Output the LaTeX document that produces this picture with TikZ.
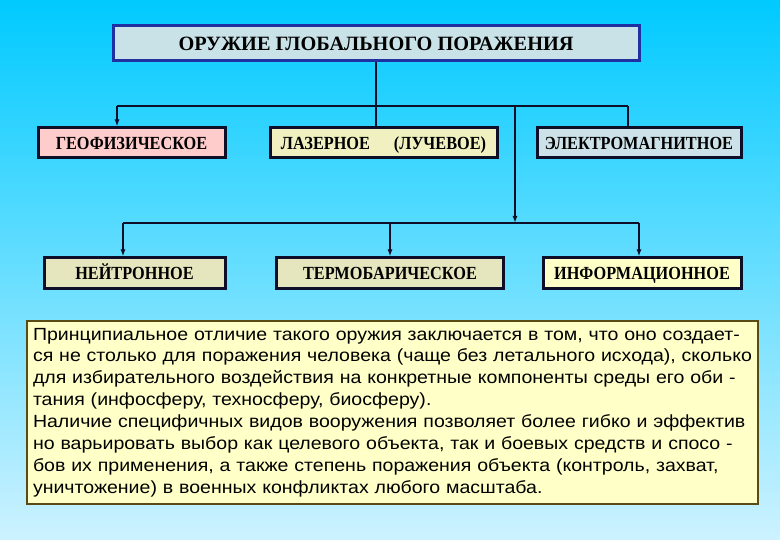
\documentclass[tikz,border=0pt]{standalone}
\usepackage{fontspec}
\setmainfont{Liberation Serif}
\newfontfamily\boxfont{Liberation Serif}[FakeStretch=0.88]
\newfontfamily\bodyfont{Liberation Sans}[FakeStretch=1.11]
\usetikzlibrary{positioning, arrows.meta}
\usepackage{xcolor}
\definecolor{skytop}{RGB}{0,202,255}
\definecolor{skybottom}{RGB}{205,242,255}
\definecolor{linecol}{RGB}{14,14,40}
\definecolor{titleline}{RGB}{32,48,160}
\definecolor{titlefill}{RGB}{200,226,232}
\definecolor{pinkfill}{RGB}{255,204,204}
\definecolor{lemonfill}{RGB}{240,240,192}
\definecolor{steelfill}{RGB}{204,226,232}
\definecolor{khakifill}{RGB}{230,230,190}
\definecolor{creamfill}{RGB}{255,255,200}
\definecolor{noteline}{RGB}{90,74,20}

\begin{document}
\begin{tikzpicture}[
        x=1pt, y=-1pt,
        wire/.style={line width=1.4pt, draw=linecol},
        arrow/.style={wire, -{Latex[length=7pt,width=5pt]}},
        kind/.style={rectangle, draw=linecol, line width=3pt, minimum height=30pt, inner sep=0pt, text height=12.5pt, text depth=0pt, font=\boxfont\fontsize{18.5}{20}\selectfont\bfseries},
        title/.style={rectangle, draw=titleline, fill=titlefill, line width=3pt, minimum width=526pt, minimum height=35pt, inner sep=0pt, text height=13.5pt, text depth=0pt, font=\fontsize{20.3}{22}\selectfont\bfseries},
        notebox/.style={rectangle, draw=noteline, fill=creamfill, line width=2.8pt, minimum width=731pt, minimum height=183pt, text width=719pt, inner xsep=6pt, align=left, font=\bodyfont\fontsize{17.6}{21.9}\selectfont}
    ]
        % Background
        \useasboundingbox (0,0) rectangle (780,540);
        \shade[top color=skytop, bottom color=skybottom] (0,0) rectangle (780,540);

        % Title
        \node[title] (weapon) at (376,43.5) {ОРУЖИЕ ГЛОБАЛЬНОГО ПОРАЖЕНИЯ};

        % First row
        \node[kind, fill=pinkfill, minimum width=187pt] (geo) at (131.5,143) {ГЕОФИЗИЧЕСКОЕ};
        \node[kind, fill=lemonfill, minimum width=227pt] (laser) at (383.5,143) {ЛАЗЕРНОЕ\hspace{24pt}(ЛУЧЕВОЕ)};
        \node[kind, fill=steelfill, minimum width=204pt] (electro) at (639,143) {ЭЛЕКТРОМАГНИТНОЕ};

        % Second row
        \node[kind, fill=khakifill, minimum width=181pt, minimum height=31pt] (neutron) at (134.5,273.5) {НЕЙТРОННОЕ};
        \node[kind, fill=khakifill, minimum width=227pt, minimum height=31pt] (thermo) at (390,273.5) {ТЕРМОБАРИЧЕСКОЕ};
        \node[kind, fill=creamfill, minimum width=198pt, minimum height=31pt] (info) at (642,273.5) {ИНФОРМАЦИОННОЕ};

        % Branch points
        \coordinate (busL) at (117,106);
        \coordinate (busR) at (628,106);
        \coordinate (hub) at (515,223);
        \coordinate (lowL) at (123,223);
        \coordinate (lowR) at (639,223);

        % Upper branches
        \draw[wire] (weapon.south) -- (weapon.south |- laser.north);
        \draw[wire] (busL) -- (busR);
        \draw[arrow] (busL) -- (busL |- geo.north);
        \draw[wire] (busR) -- (busR |- electro.north);
        \draw[arrow] (busL -| hub) -- (hub);

        % Lower branches
        \draw[wire] (lowL) -- (lowR);
        \draw[arrow] (lowL) -- (lowL |- neutron.north);
        \draw[arrow] (thermo.north |- hub) -- (thermo.north);
        \draw[arrow] (lowR) -- (lowR |- info.north);

        % Note
        \node[notebox] (note) at (392.5,412.5) {Принципиальное отличие такого оружия заключается в том, что оно создает-\\
ся не столько для поражения человека (чаще без летального исхода), сколько\\
для избирательного воздействия на конкретные компоненты среды его оби -\\
тания (инфосферу, техносферу, биосферу).\\
Наличие специфичных видов вооружения позволяет более гибко и эффектив\\
но варьировать выбор как целевого объекта, так и боевых средств и спосо -\\
бов их применения, а также степень поражения объекта (контроль, захват,\\
уничтожение) в военных конфликтах любого масштаба.};
    \end{tikzpicture}
\end{document}
